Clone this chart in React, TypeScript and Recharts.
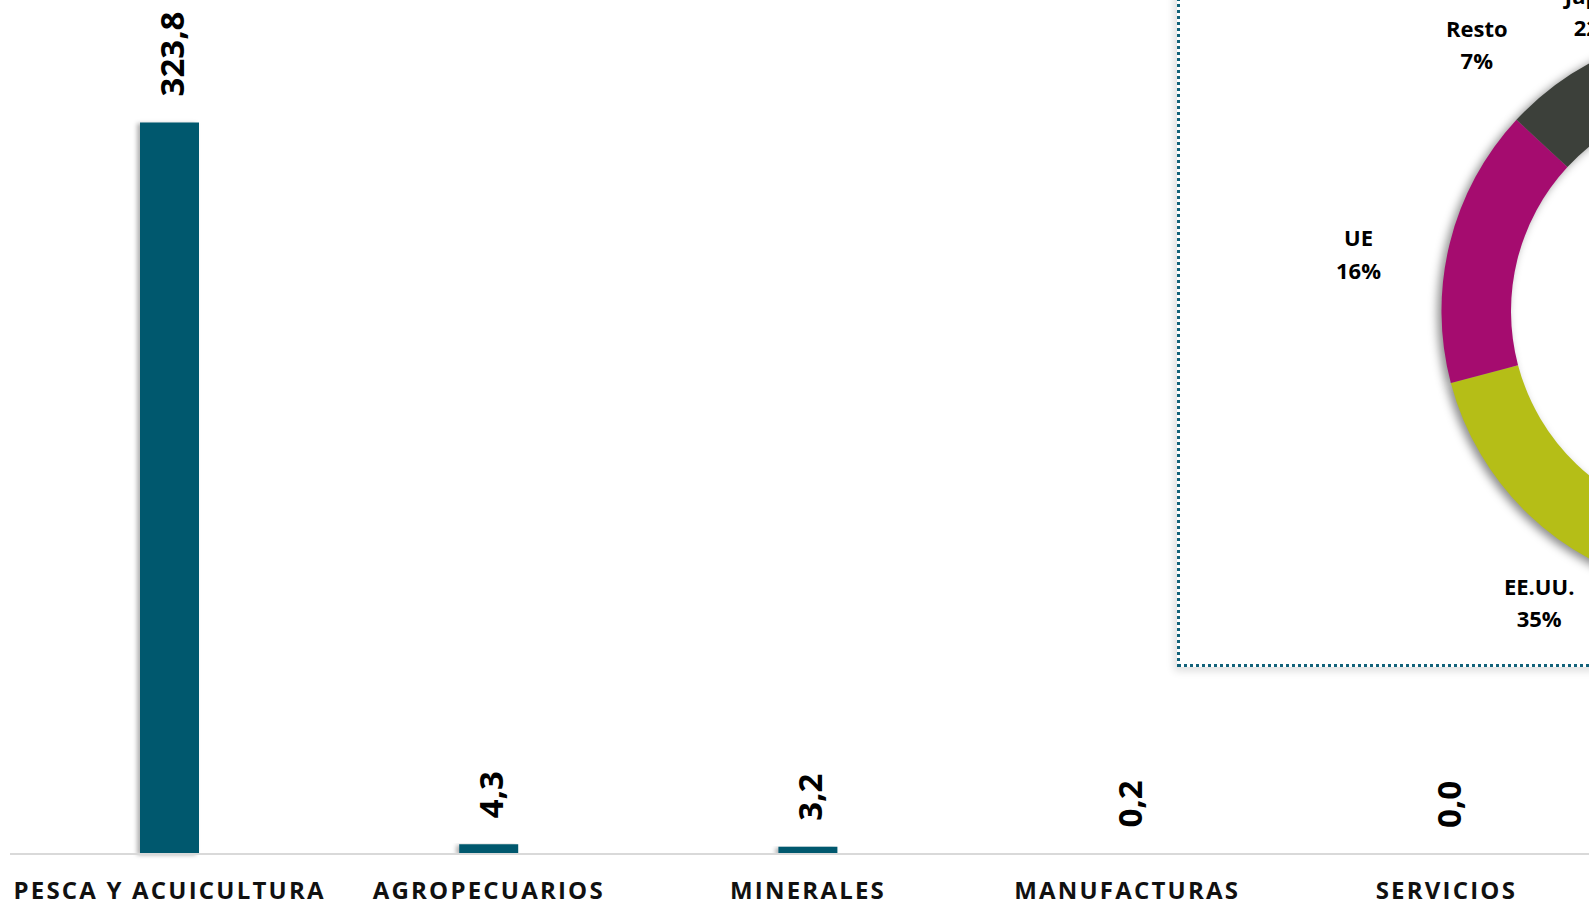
import { Bar, BarChart, Cell, Pie, PieChart, Rectangle, XAxis, YAxis } from 'recharts'

const sectors = ['PESCA Y ACUICULTURA', 'AGROPECUARIOS', 'MINERALES', 'MANUFACTURAS', 'SERVICIOS']
const exportValues = [323.8, 4.3, 3.2, 0.2, 0.0]

// donut, clockwise from the slice that starts just left of 12 o'clock
const destinations = ['Japón', 'China', 'EE.UU.', 'UE', 'Resto']
const destinationShare = [22, 20, 35, 16, 7]
const destinationColors = ['#02586E', '#8C8C8C', '#B5BE17', '#A50C6F', '#3C403A']

// labels were dragged by hand in the original, nudge them off the slice middle
const labelNudge: Record<string, { turn: number; dist: number }> = {
  'Japón': { turn: -40.5, dist: 326 },
  China: { turn: 0, dist: 345 },
  'EE.UU.': { turn: 20.1, dist: 344 },
  UE: { turn: -5.05, dist: 369 },
  Resto: { turn: -8.1, dist: 363 },
}

const FONT = '"Open Sans", sans-serif'
const TEAL = '#02586E'

const barData = sectors.map((s, i) => ({ sector: s, value: exportValues[i] }))
const donutData = destinations.map((d, i) => ({ name: d, share: destinationShare[i] }))

const fmt = (v: number) => v.toFixed(1).replace('.', ',')

function SectorTick(props: any) {
  const { x, y, payload } = props
  return (
    <text
      x={x}
      y={y + 27}
      textAnchor="middle"
      dominantBaseline="central"
      fontFamily={FONT}
      fontWeight={700}
      fontSize={24}
      letterSpacing={2.2}
      fill="#111"
    >
      {payload.value}
    </text>
  )
}

function ValueLabel(props: any) {
  const { x, y, width, value } = props
  const lx = x + width / 2 + 2
  const ly = y - 26
  return (
    <text
      x={lx}
      y={ly}
      transform={`rotate(-90, ${lx}, ${ly})`}
      textAnchor="start"
      dominantBaseline="central"
      fontFamily={FONT}
      fontWeight={700}
      fontSize={33}
      fill="#000"
    >
      {fmt(value)}
    </text>
  )
}

function DonutLabel(props: any) {
  const { cx, cy, midAngle, index } = props
  const name = destinations[index]
  const n = labelNudge[name]
  const a = ((90 - midAngle + n.turn) * Math.PI) / 180
  const x = cx + n.dist * Math.sin(a)
  const y = cy - n.dist * Math.cos(a)
  const common = {
    textAnchor: 'middle' as const,
    dominantBaseline: 'central' as const,
    fontFamily: FONT,
    fontWeight: 700,
    fontSize: 22,
    fill: '#000',
  }
  return (
    <g>
      <text x={x} y={y - 16.2} {...common}>
        {name}
      </text>
      <text x={x} y={y + 16.2} {...common}>
        {destinationShare[index]}%
      </text>
    </g>
  )
}

export default function App() {
  return (
    <div
      style={{
        position: 'absolute',
        left: 0,
        top: 0,
        width: 1589,
        height: 902,
        overflow: 'hidden',
        background: '#fff',
      }}
    >
      {/* the plot runs past the right edge in the original, so it is wider than the page */}
      <BarChart
        width={1606}
        height={902}
        data={barData}
        margin={{ top: 0, right: 0, bottom: 0, left: 10 }}
      >
        <defs>
          <filter id="barShadow" x="-50%" y="-5%" width="200%" height="110%">
            <feDropShadow dx={-3} dy={1} stdDeviation={2} floodColor="#000" floodOpacity={0.3} />
          </filter>
        </defs>
        <XAxis
          dataKey="sector"
          height={48}
          interval={0}
          tickLine={false}
          axisLine={{ stroke: '#D9D9D9', strokeWidth: 2 }}
          tick={<SectorTick />}
        />
        <YAxis hide domain={[0, 378]} />
        <Bar
          dataKey="value"
          fill={TEAL}
          barSize={59}
          isAnimationActive={false}
          label={<ValueLabel />}
          shape={(p: any) => (
            <g filter="url(#barShadow)">
              <Rectangle {...p} />
            </g>
          )}
        />
      </BarChart>

      <div
        style={{
          position: 'absolute',
          left: 1177,
          top: -20,
          width: 900,
          height: 687,
          border: '3px dotted #12627A',
          boxShadow: '-3px 4px 8px rgba(0,0,0,0.13)',
          background: '#fff',
          boxSizing: 'border-box',
        }}
      >
        <PieChart width={894} height={681} margin={{ top: 0, right: 0, bottom: 0, left: 0 }}>
          <defs>
            <filter id="ringShadow" x="-20%" y="-20%" width="140%" height="140%">
              <feGaussianBlur stdDeviation={5} />
            </filter>
          </defs>
          <Pie
            data={donutData}
            dataKey="share"
            nameKey="name"
            cx={543}
            cy={328}
            innerRadius={212}
            outerRadius={281.5}
            startAngle={112}
            endAngle={-248}
            stroke="none"
            fill="rgba(0,0,0,0.45)"
            isAnimationActive={false}
            style={{ filter: 'url(#ringShadow)', transform: 'translate(-4px, 3px)' }}
          />
          <Pie
            data={donutData}
            dataKey="share"
            nameKey="name"
            cx={543}
            cy={328}
            innerRadius={212}
            outerRadius={281.5}
            startAngle={112}
            endAngle={-248}
            stroke="none"
            isAnimationActive={false}
            labelLine={false}
            label={DonutLabel}
          >
            {donutData.map((d, i) => (
              <Cell key={d.name} fill={destinationColors[i]} />
            ))}
          </Pie>
        </PieChart>
      </div>
    </div>
  )
}
